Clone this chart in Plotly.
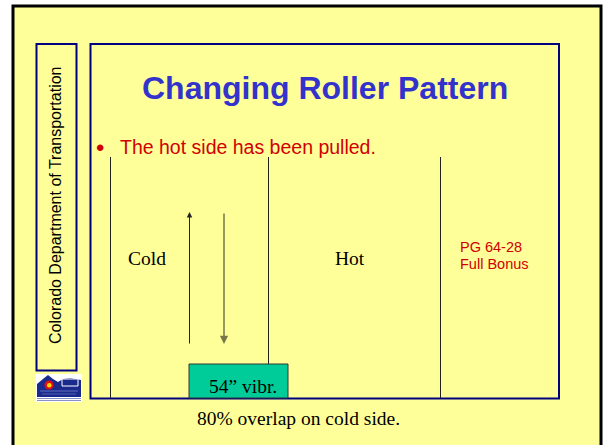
import plotly.graph_objects as go

# ---- content (slide "data") ----
title_text = "Changing Roller Pattern"
bullet_text = "The hot side has been pulled."
side_label = "Colorado Department of Transportation"
zone_labels = ["Cold", "Hot"]
zone_label_x = [147, 350]
lane_lines_x = [110, 268, 440]          # lane boundaries (slide units)
roller_label = "54\u201d vibr."
roller_span = [189, 288]
mix_lines = ["PG 64-28", "Full Bonus"]
caption = "80% overlap on cold side."
pass_up_x = 189
pass_down_x = 224

W, H = 604, 445
YEL = "#FFFF99"
NAVY = "#000080"
RED = "#D00000"
BLUE = "#3333CC"
SANS = "Arial, Liberation Sans, sans-serif"
SERIF = "Times New Roman, Liberation Serif, serif"

fig = go.Figure()
# invisible trace to instantiate axes
fig.add_trace(go.Scatter(x=[0, W], y=[0, H], mode="markers",
                         marker=dict(opacity=0), hoverinfo="skip", showlegend=False))

shapes = []
# outer slide frame
shapes.append(dict(type="rect", x0=13, y0=6, x1=601, y1=460,
                   line=dict(color="black", width=3), fillcolor=YEL, layer="below"))
# left vertical box
shapes.append(dict(type="rect", x0=36.5, y0=44, x1=76.5, y1=370.5,
                   line=dict(color=NAVY, width=2), fillcolor=YEL, layer="below"))
# main content box
shapes.append(dict(type="rect", x0=90.5, y0=44, x1=559, y1=398.5,
                   line=dict(color=NAVY, width=2), fillcolor=YEL, layer="below"))
# lane lines
line_bottoms = [398, 364, 398]
for lx, lb in zip(lane_lines_x, line_bottoms):
    shapes.append(dict(type="line", x0=lx + 0.5, x1=lx + 0.5, y0=157, y1=lb,
                       line=dict(color="#222222", width=1)))
# roller box
shapes.append(dict(type="rect", x0=roller_span[0], y0=364, x1=roller_span[1], y1=398,
                   line=dict(color="#333333", width=1), fillcolor="#00CC99"))

# logo (approximation)
shapes.append(dict(type="rect", x0=36, y0=374, x1=82, y1=402,
                   line=dict(width=0), fillcolor="white"))
shapes.append(dict(type="path",
                   path="M 37 397 L 37 384 L 43 379 L 48 375 L 53 379 L 58 382 L 63 379 L 70 378 L 81 380 L 81 397 Z",
                   line=dict(width=0), fillcolor="#1A2A8C"))
for yy in [398.5, 400.5]:
    shapes.append(dict(type="line", x0=37, x1=81, y0=yy, y1=yy,
                       line=dict(color="#8890C8", width=1)))
shapes.append(dict(type="line", x0=40, x1=78, y0=391, y1=391,
                   line=dict(color="#6070C0", width=1)))
shapes.append(dict(type="line", x0=42, x1=76, y0=394, y1=394,
                   line=dict(color="#5060B0", width=1)))
shapes.append(dict(type="circle", x0=44.5, y0=380.5, x1=53.5, y1=389.5,
                   line=dict(width=0), fillcolor="#E01010"))
shapes.append(dict(type="circle", x0=47, y0=383, x1=51.5, y1=387.5,
                   line=dict(width=0), fillcolor="#FFD700"))
shapes.append(dict(type="rect", x0=62, y0=379, x1=78, y1=386,
                   line=dict(color="white", width=1), fillcolor="#1A2A8C"))

annotations = []
annotations.append(dict(x=324.5, y=88, text="<b>%s</b>" % title_text, showarrow=False,
                        font=dict(family=SANS, size=32, color=BLUE),
                        xanchor="center", yanchor="middle"))
annotations.append(dict(x=100, y=147, text="\u2022", showarrow=False,
                        font=dict(family=SANS, size=24, color=RED),
                        xanchor="center", yanchor="middle"))
annotations.append(dict(x=118, y=147, text=bullet_text, showarrow=False,
                        font=dict(family=SANS, size=19.5, color=RED),
                        xanchor="left", yanchor="middle"))
annotations.append(dict(x=55, y=206, text=side_label, showarrow=False, textangle=-90,
                        font=dict(family=SANS, size=16, color="black"),
                        xanchor="center", yanchor="middle"))
for lab, lx in zip(zone_labels, zone_label_x):
    annotations.append(dict(x=lx, y=258, text=lab, showarrow=False,
                            font=dict(family=SERIF, size=19.5, color="black"),
                            xanchor="center", yanchor="middle"))
for i, t in enumerate(mix_lines):
    annotations.append(dict(x=458, y=247 + 17 * i, text=t, showarrow=False,
                            font=dict(family=SANS, size=14.5, color=RED),
                            xanchor="left", yanchor="middle"))
annotations.append(dict(x=(roller_span[0] + roller_span[1]) / 2 + 4, y=386, text=roller_label,
                        showarrow=False, font=dict(family=SERIF, size=19.5, color="black"),
                        xanchor="center", yanchor="middle"))
annotations.append(dict(x=298, y=418, text=caption, showarrow=False,
                        font=dict(family=SERIF, size=19.5, color="black"),
                        xanchor="center", yanchor="middle"))
# pass arrows
annotations.append(dict(x=pass_up_x + 0.5, y=212, ax=pass_up_x + 0.5, ay=345,
                        xref="x", yref="y", axref="x", ayref="y", text="",
                        showarrow=True, arrowhead=2, arrowsize=1.1, arrowwidth=1,
                        arrowcolor="#222222"))
annotations.append(dict(x=pass_down_x, y=344, ax=pass_down_x, ay=212,
                        xref="x", yref="y", axref="x", ayref="y", text="",
                        showarrow=True, arrowhead=2, arrowsize=1.1, arrowwidth=1.5,
                        arrowcolor="#77774a"))

fig.update_layout(
    width=W, height=H, margin=dict(l=0, r=0, t=0, b=0),
    paper_bgcolor="white", plot_bgcolor="white",
    xaxis=dict(range=[0, W], visible=False, fixedrange=True),
    yaxis=dict(range=[H, 0], visible=False, fixedrange=True),
    shapes=shapes, annotations=annotations, showlegend=False,
)

fig.write_html("out.html", config={"displayModeBar": False},
               post_script="document.body.style.margin='0';document.body.style.overflow='hidden';")
